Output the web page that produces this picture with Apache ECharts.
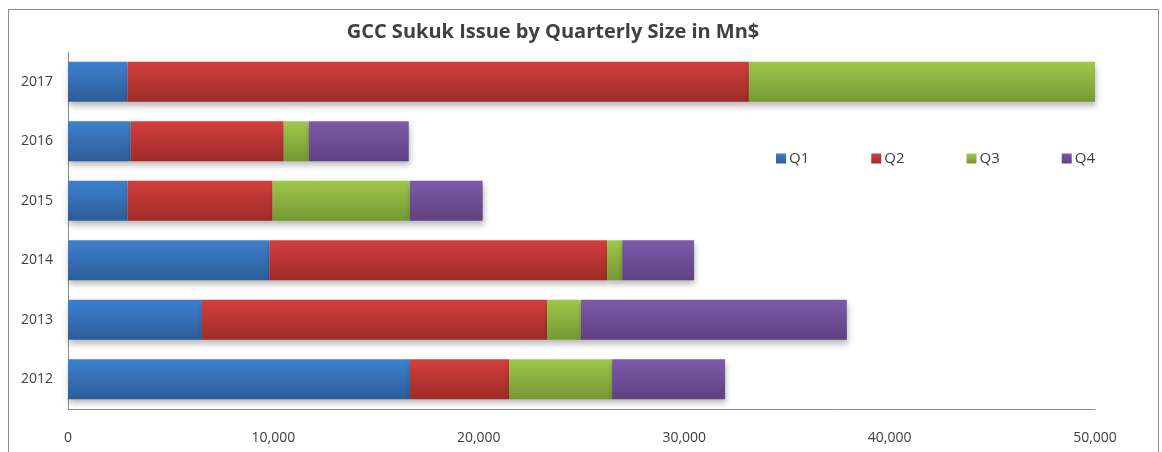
<!DOCTYPE html>
<html>
<head>
<meta charset="utf-8">
<script src="https://cdn.jsdelivr.net/npm/echarts@6/dist/echarts.min.js"></script>
<style>
  html, body { margin: 0; padding: 0; background: #fff; }
  #frame {
    position: absolute; left: 8px; top: 9px; width: 1151px; height: 460px;
    border: 1px solid #8c8c8c; box-sizing: border-box;
  }
  #chart { position: absolute; left: 0; top: 0; width: 1162px; height: 452px; }
</style>
</head>
<body>
<div id="frame"></div>
<div id="chart"></div>
<script>
  // years, bottom to top
  var years = ["2012", "2013", "2014", "2015", "2016", "2017"];
  var q1 = [16650, 6520, 9800, 2900, 3050, 2900];
  var q2 = [4820, 16800, 16450, 7060, 7450, 30250];
  var q3 = [5020, 1650, 730, 6680, 1220, 16850];
  var q4 = [5500, 12950, 3500, 3550, 4870, 0];
  var xTicks = [0, 10000, 20000, 30000, 40000, 50000];

  function grad(top, bottom) {
    return new echarts.graphic.LinearGradient(0, 0, 0, 1, [
      { offset: 0, color: top },
      { offset: 1, color: bottom }
    ]);
  }

  var colors = [
    grad("#3d80cf", "#2d5d98"),
    grad("#d33f3c", "#9e2b29"),
    grad("#9fc84b", "#769834"),
    grad("#7d5aa9", "#5e4181")
  ];

  function makeSeries(name, data, i) {
    return {
      name: name,
      type: "bar",
      stack: "total",
      data: data,
      barCategoryGap: "33%",
      itemStyle: {
        color: colors[i],
        shadowColor: "rgba(0,0,0,0.28)",
        shadowBlur: 6,
        shadowOffsetY: 4,
        shadowOffsetX: 1
      }
    };
  }

  var chart = echarts.init(document.getElementById("chart"));
  chart.setOption({
    animation: false,
    title: {
      text: "GCC Sukuk Issue by Quarterly Size in Mn$",
      left: 548,
      textAlign: "center",
      top: 17,
      textStyle: {
        fontFamily: "Open Sans",
        fontWeight: "bold",
        fontSize: 20,
        color: "#404040"
      }
    },
    legend: {
      left: 771,
      top: 146,
      itemWidth: 10,
      itemHeight: 10,
      itemGap: 62,
      icon: "rect",
      textStyle: { fontFamily: "Open Sans", fontSize: 15, color: "#404040", padding: [0, 0, 0, -2] },
      data: ["Q1", "Q2", "Q3", "Q4"]
    },
    grid: { left: 68, right: 67, top: 52, bottom: 43 },
    xAxis: {
      type: "value",
      min: xTicks[0],
      max: xTicks[xTicks.length - 1],
      interval: 10000,
      axisLine: { show: true, lineStyle: { color: "#8c8c8c", width: 1 } },
      axisTick: { show: false },
      splitLine: { show: false },
      axisLabel: {
        margin: 22,
        fontFamily: "Open Sans",
        fontSize: 14,
        color: "#404040",
        formatter: function (v) { return v.toLocaleString("en-US"); }
      }
    },
    yAxis: {
      type: "category",
      data: years,
      axisLine: { show: true, lineStyle: { color: "#8c8c8c", width: 1 } },
      axisTick: { show: false },
      axisLabel: {
        margin: 15,
        fontFamily: "Open Sans",
        fontSize: 14,
        color: "#404040"
      }
    },
    series: [
      makeSeries("Q1", q1, 0),
      makeSeries("Q2", q2, 1),
      makeSeries("Q3", q3, 2),
      makeSeries("Q4", q4, 3)
    ]
  });
</script>
</body>
</html>
